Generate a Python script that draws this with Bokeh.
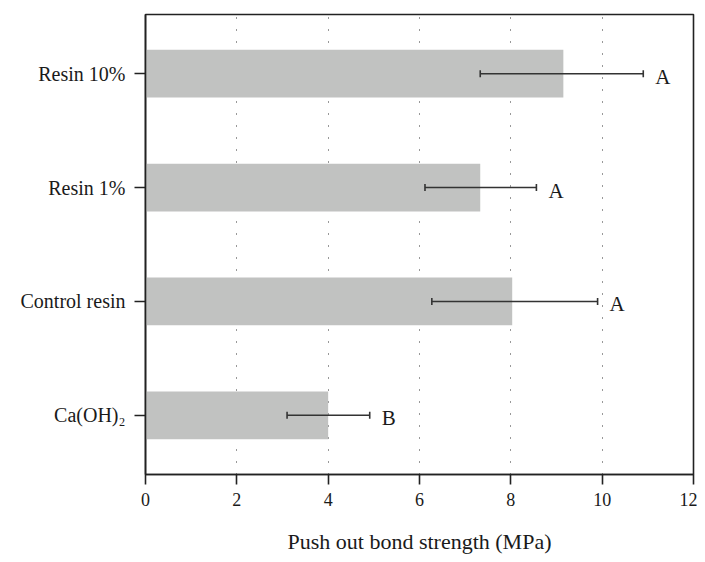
from bokeh.plotting import figure
from bokeh.models import ColumnDataSource, Whisker, TeeHead, FixedTicker, Range1d
from bokeh.core.properties import value
from bokeh.embed import file_html
from bokeh.resources import INLINE

groups = ["Ca(OH)\u2082", "Control resin", "Resin 1%", "Resin 10%"]
means = [4.0, 8.03, 7.33, 9.15]
lower = [3.1, 6.27, 6.12, 7.33]
upper = [4.91, 9.9, 8.56, 10.9]
letters = ["B", "A", "A", "A"]
x_ticks = [0, 2, 4, 6, 8, 10, 12]

src = ColumnDataSource(dict(g=groups, m=means, lo=lower, up=upper, t=letters))

FONT = "Liberation Serif"
INK = "#1a1a1a"

p = figure(width=697, height=560, y_range=groups, x_range=Range1d(0, 12),
           output_backend="svg", toolbar_location=None,
           min_border_left=145, min_border_top=14, min_border_right=4, min_border_bottom=86)
p.y_range.range_padding = 0.01

p.hbar(y="g", right="m", left=0, height=0.42, source=src, color="#c1c2c1", line_color=None)

w = Whisker(base="g", lower="lo", upper="up", source=src, dimension="width",
            line_color="#333333", line_width=1.6, level="overlay",
            lower_head=TeeHead(size=7, line_color="#333333", line_width=1.6),
            upper_head=TeeHead(size=7, line_color="#333333", line_width=1.6))
p.add_layout(w)

p.text(x="up", y="g", text="t", source=src, x_offset=12, y_offset=3,
       text_baseline="middle", text_align="left",
       text_font=value(FONT), text_font_size="21px", text_color=INK)

p.xaxis.ticker = FixedTicker(ticks=x_ticks)
p.xaxis.axis_label = "Push out bond strength (MPa)"
for ax in (p.xaxis, p.yaxis):
    ax.axis_label_text_font = FONT
    ax.axis_label_text_font_style = "normal"
    ax.axis_label_text_font_size = "22px"
    ax.axis_label_text_color = INK
    ax.major_label_text_font = FONT
    ax.major_label_text_color = INK
    ax.axis_line_color = "#222222"
    ax.axis_line_width = 1.6
    ax.major_tick_line_color = "#222222"
    ax.major_tick_line_width = 1.6
    ax.major_tick_in = 0
    ax.minor_tick_line_color = None
p.xaxis.major_label_text_font_size = "18px"
p.yaxis.major_label_text_font_size = "20px"
p.xaxis.major_tick_out = 10
p.yaxis.major_tick_out = 11
p.xaxis.major_label_standoff = 8
p.xaxis.axis_label_standoff = 20
p.yaxis.major_label_standoff = 9

p.xgrid.grid_line_color = "#333333"
p.xgrid.grid_line_dash = "1 11"
p.xgrid.grid_line_width = 1
p.ygrid.grid_line_color = None

p.outline_line_color = "#222222"
p.outline_line_width = 1.6
p.outline_line_alpha = 1

open("out.html", "w").write(file_html(p, INLINE))
